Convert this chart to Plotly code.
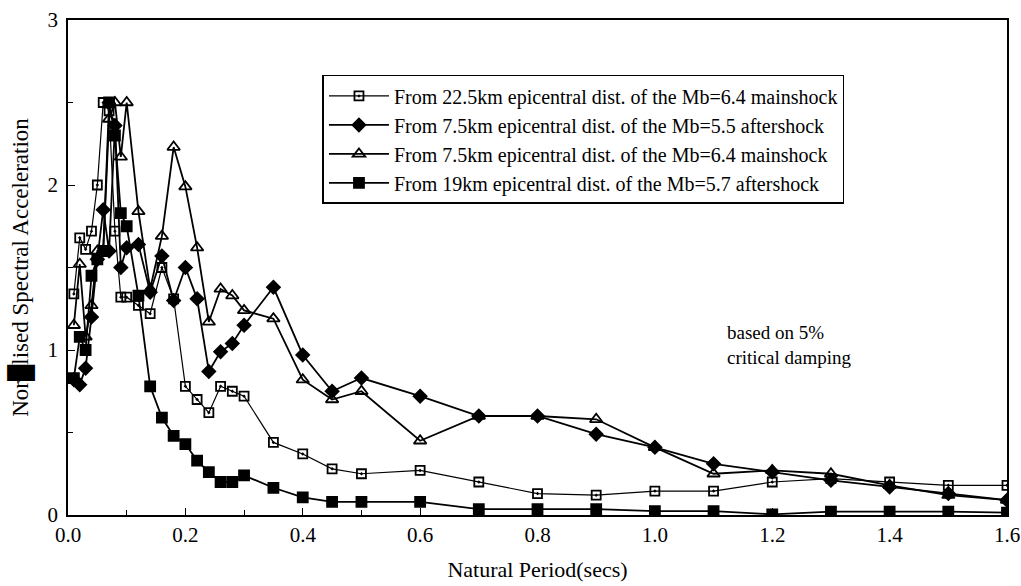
import plotly.graph_objects as go

periods = [0.01, 0.02, 0.03, 0.04, 0.05, 0.06, 0.07, 0.08, 0.09, 0.10,
           0.12, 0.14, 0.16, 0.18, 0.20, 0.22, 0.24, 0.26, 0.28, 0.30,
           0.35, 0.40, 0.45, 0.50, 0.60, 0.70, 0.80, 0.90, 1.0, 1.1,
           1.2, 1.3, 1.4, 1.5, 1.6]

main_22km = [1.34, 1.68, 1.61, 1.72, 2.00, 2.50, 2.45, 1.72, 1.32, 1.32,
             1.27, 1.22, 1.50, 1.31, 0.78, 0.70, 0.62, 0.78, 0.75, 0.72,
             0.44, 0.37, 0.28, 0.25, 0.27, 0.20, 0.13, 0.12, 0.145, 0.145,
             0.20, 0.22, 0.20, 0.18, 0.18]

after_7km = [0.82, 0.79, 0.89, 1.20, 1.55, 1.85, 1.60, 2.36, 1.50, 1.62,
             1.64, 1.35, 1.57, 1.30, 1.50, 1.31, 0.87, 0.99, 1.04, 1.15,
             1.38, 0.97, 0.75, 0.83, 0.72, 0.60, 0.60, 0.49, 0.41, 0.31,
             0.26, 0.21, 0.17, 0.13, 0.09]

main_7km = [1.15, 1.52, 1.08, 1.27, 1.60, 1.60, 2.40, 2.50, 2.17, 2.50,
            1.84, 1.37, 1.69, 2.23, 1.99, 1.62, 1.17, 1.37, 1.33, 1.24,
            1.19, 0.82, 0.70, 0.75, 0.45, 0.60, 0.60, 0.58, 0.41, 0.25,
            0.27, 0.25, 0.18, 0.12, 0.09]

after_19km = [0.83, 1.08, 1.00, 1.45, 1.55, 1.60, 2.50, 2.30, 1.83, 1.75,
              1.33, 0.78, 0.59, 0.48, 0.43, 0.33, 0.26, 0.20, 0.20, 0.24,
              0.165, 0.107, 0.08, 0.08, 0.08, 0.036, 0.036, 0.036, 0.024, 0.024,
              0.004, 0.02, 0.02, 0.02, 0.015]

names = [
    "From 22.5km epicentral dist. of the Mb=6.4 mainshock",
    "From 7.5km epicentral dist. of the Mb=5.5 aftershock",
    "From 7.5km epicentral dist. of the Mb=6.4 mainshock",
    "From 19km epicentral dist. of the Mb=5.7 aftershock",
]

x_ticks = [0.0, 0.2, 0.4, 0.6, 0.8, 1.0, 1.2, 1.4, 1.6]
x_ticklabels = ["0.0", "0.2", "0.4", "0.6", "0.8", "1.0", "1.2", "1.4", "1.6"]
y_ticks = [0, 1, 2, 3]
y_ticklabels = ["0", "1", "2", "3"]

serif = "Liberation Serif"

fig = go.Figure()
series = [
    (main_22km, "square-open-dot", 9, 1.2),
    (after_7km, "diamond", 10, 1.8),
    (main_7km, "triangle-up-open", 11, 1.8),
    (after_19km, "square", 10, 1.8),
]
for i, (vals, sym, size, lw) in enumerate(series):
    fig.add_trace(go.Scatter(
        x=periods, y=vals, name=names[i], mode="lines+markers",
        legendgroup=f"g{i}",
        line=dict(color="black", width=lw),
        marker=dict(symbol=sym, size=size, color="black",
                    line=dict(color="black", width=1.8)),
    ))

fig.add_annotation(
    x=1.12, y=1.03, xref="x", yref="y", xanchor="left", yanchor="middle",
    text="based on 5%<br>critical damping", showarrow=False, align="left",
    font=dict(family=serif, size=19, color="black"),
)

fig.update_layout(
    width=1021, height=586,
    margin=dict(l=68, r=14, t=20, b=71, autoexpand=False),
    paper_bgcolor="white", plot_bgcolor="white",
    font=dict(family=serif, color="black"),
    showlegend=True,
    legend=dict(
        x=0.271, y=0.889, xanchor="left", yanchor="top",
        bordercolor="black", borderwidth=1.5, bgcolor="white",
        font=dict(family=serif, size=20, color="black"),
        tracegroupgap=0, itemwidth=60,
    ),
    xaxis=dict(
        range=[0, 1.6], tickvals=x_ticks, ticktext=x_ticklabels,
        ticks="inside", ticklen=7, tickwidth=1.2, tickcolor="black",
        minor=dict(dtick=0.1, ticks="inside", ticklen=5, tickcolor="black"),
        showline=True, linecolor="black", linewidth=1.5, mirror=True,
        showgrid=False, zeroline=False, automargin=False,
        ticklabeloverflow="allow",
        tickfont=dict(family=serif, size=21, color="black"),
        title=dict(text="Natural Period(secs)", standoff=16,
                   font=dict(family=serif, size=22, color="black")),
    ),
    yaxis=dict(
        range=[0, 3], tickvals=y_ticks, ticktext=y_ticklabels,
        ticks="inside", ticklen=7, tickwidth=1.2, tickcolor="black",
        minor=dict(dtick=0.5, ticks="inside", ticklen=5, tickcolor="black"),
        showline=True, linecolor="black", linewidth=1.5, mirror=True,
        showgrid=False, zeroline=False, automargin=False,
        ticklabeloverflow="allow",
        tickfont=dict(family=serif, size=21, color="black"),
        ticklabelstandoff=4,
        title=dict(text="Nor\u2588lised Spectral Acceleration", standoff=12,
                   font=dict(family=serif, size=23, color="black")),
    ),
)

# remove the default page margin so the 1021x586 figure fills the window exactly
fig.write_html(
    "out.html",
    config={"displayModeBar": False},
    post_script="document.body.style.margin='0px';"
                "document.body.style.overflow='hidden';",
)
